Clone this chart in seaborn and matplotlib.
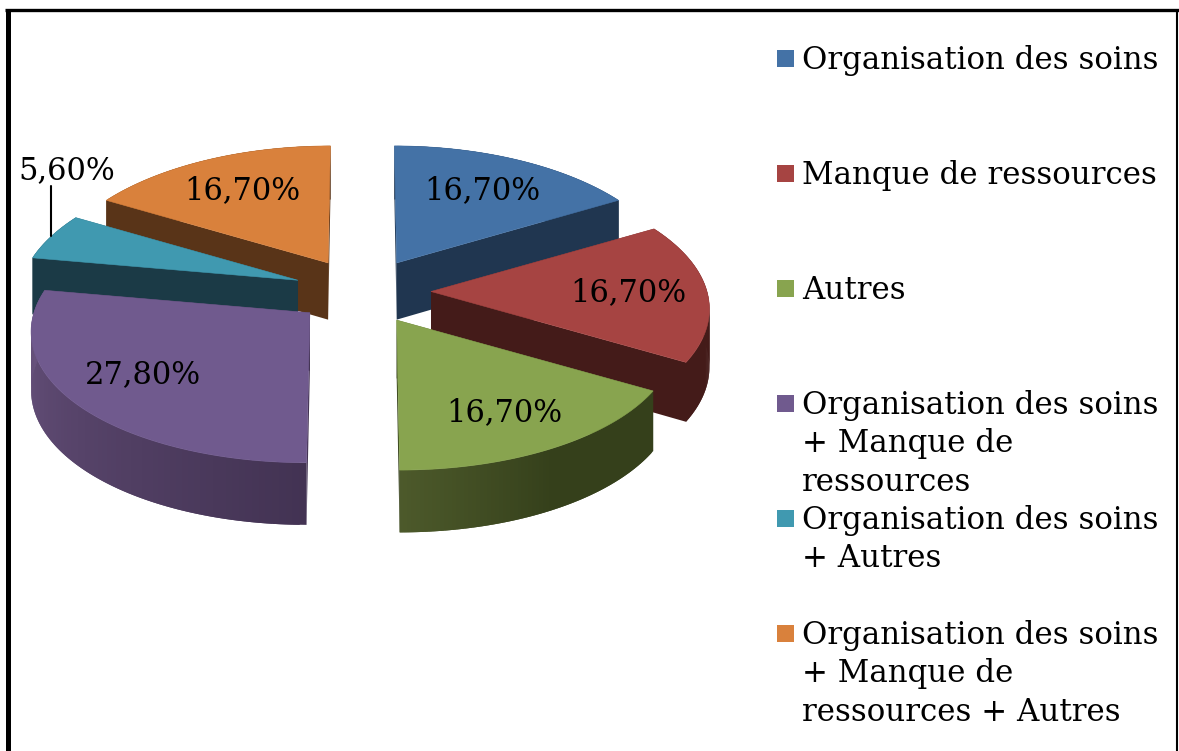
import numpy as np
import pandas as pd
import matplotlib.pyplot as plt
import seaborn as sns

categories = ['Organisation des soins', 'Manque de ressources', 'Autres',
              'Organisation des soins + Manque de ressources',
              'Organisation des soins + Autres',
              'Organisation des soins + Manque de ressources + Autres']
legend_lines = [['Organisation des soins'], ['Manque de ressources'], ['Autres'],
                ['Organisation des soins', '+ Manque de', 'ressources'],
                ['Organisation des soins', '+ Autres'],
                ['Organisation des soins', '+ Manque de', 'ressources + Autres']]
values = [16.7, 16.7, 16.7, 27.8, 5.6, 16.7]
value_labels = ['16,70%', '16,70%', '16,70%', '27,80%', '5,60%', '16,70%']

top_colors = ['#4472A6', '#A64442', '#88A44F', '#705A8E', '#4099B0', '#D9813C']
cut_colors = ['#203650', '#441B19', '#35401B', '#433353', '#1B3A46', '#593418']
rim_light = ['#203650', '#441B19', '#4D5A2B', '#67517C', '#1B3A46', '#593418']

# position du texte de chaque valeur (pixels)
label_xy = [(482, 191), (628, 293), (504, 413), (143, 375), (67, 171), (242, 191)]
draw_order = [5, 0, 4, 1, 3, 2]

# projection du camembert
CX, CY = 362.4, 291.5
EX, EY = 68.6, 33.0
RX, PX = 276.0, 0.134
Y0, RY, BY = 0.0, 133.5, 16.5
SKEW = 6.6e-4


def rim(theta):
    t = np.radians(theta)
    c = np.cos(t)
    return RX * np.sin(t) * (1 - PX * c), Y0 - RY * c + BY * c ** 2


def depth(y):
    return 57.5 + (y - 291.5) * 0.027


df = pd.DataFrame({'cat': categories, 'val': values})
df['stop'] = df['val'].cumsum() / df['val'].sum() * 360
df['start'] = df['stop'].shift(fill_value=0)

sns.set_theme(style='white')
plt.rcParams['font.family'] = ['DejaVu Serif']

fig, ax = plt.subplots(figsize=(11.79, 7.51), dpi=100)
ax.set_position([0, 0, 1, 1])
ax.set_xlim(0, 1179)
ax.set_ylim(751, 0)
ax.axis('off')

for i in draw_order:
    a0, a1 = df.loc[i, 'start'], df.loc[i, 'stop']
    mid = np.radians((a0 + a1) / 2)
    ax0 = CX + EX * np.sin(mid)
    ay0 = CY - EY * np.cos(mid)

    thetas = np.linspace(a0, a1, 81)
    rx, ry = rim(thetas)
    xs = ax0 + rx + (ax0 - CX) * abs(np.cos(mid)) * ry * SKEW
    ys = ay0 + ry

    # bord extérieur, par bandes qui se recouvrent pour le dégradé
    light = np.array(sns.color_palette([rim_light[i]])[0])
    dark = np.array(sns.color_palette([cut_colors[i]])[0])
    for k in range(len(thetas) - 1):
        if i == 2:
            w = np.clip((thetas[k] - 150) / 30, 0, 1)
        elif i == 3:
            w = np.clip((thetas[k] - 180) / 90, 0, 1)
        else:
            w = 0
        col = dark + (light - dark) * w
        e = min(k + 2, len(thetas) - 1)
        qx = [xs[k], xs[e], xs[e], xs[k]]
        qy = [ys[k], ys[e], ys[e] + depth(ys[e]), ys[k] + depth(ys[k])]
        ax.fill(qx, qy, color=col, lw=0, zorder=1)

    # faces de coupe
    for n in (0, -1):
        fx = [ax0, xs[n], xs[n], ax0]
        fy = [ay0, ys[n], ys[n] + depth(ys[n]), ay0 + depth(ay0)]
        ax.fill(fx, fy, color=cut_colors[i], lw=0, zorder=1)

    ax.fill(np.r_[ax0, xs], np.r_[ay0, ys], color=top_colors[i], lw=0.4, zorder=1)

for i, (lx, ly) in enumerate(label_xy):
    ax.text(lx, ly, value_labels[i], ha='center', va='center', fontsize=22, color='black', zorder=3)

# trait de rappel du 5,60%
ax.plot([51, 51], [186, 236], color='black', lw=1.5, zorder=3)

# légende
for i, lines in enumerate(legend_lines):
    cy = 58.5 + 115 * i
    ax.fill([777, 794, 794, 777], [cy - 8.5, cy - 8.5, cy + 8.5, cy + 8.5], color=top_colors[i], lw=0)
    for j, line in enumerate(lines):
        ax.text(802, cy + 10.5 + 38.3 * j, line, ha='left', va='baseline', fontsize=22.2, color='black')

# cadre
ax.plot([7.5, 7.5], [9, 751], color='black', lw=3.6, solid_capstyle='butt')
ax.plot([5, 1179], [9.5, 9.5], color='black', lw=2.4, solid_capstyle='butt')
ax.plot([1177, 1177], [9, 751], color='black', lw=1.5, solid_capstyle='butt')

fig.savefig('out.png', dpi=100)
